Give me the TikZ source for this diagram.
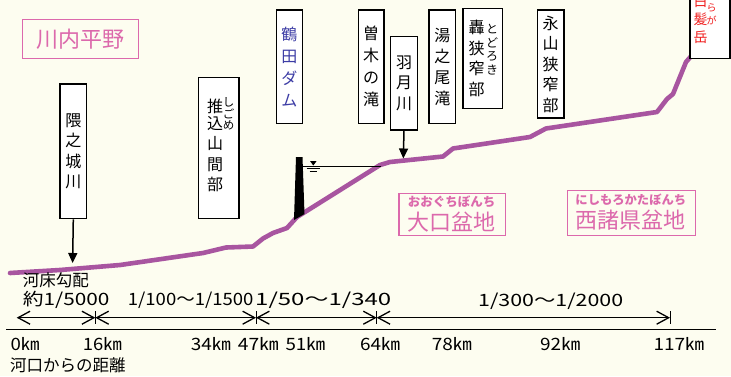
\documentclass[tikz,border=0pt]{standalone}
\usepackage{fontspec}
\setmainfont{Noto Sans CJK JP}
\usetikzlibrary{arrows.meta}
\definecolor{bg}{RGB}{253,253,240}
\definecolor{prof}{RGB}{168,85,160}
\definecolor{pk}{RGB}{220,105,172}
\definecolor{bl}{RGB}{60,60,165}
\definecolor{rd}{RGB}{240,30,30}
\newcommand\fitw[2]{\resizebox{#1pt}{\height}{#2}}
\begin{document}
\begin{tikzpicture}[x=1pt,y=-1pt,
  tbox/.style={draw,line width=1.3pt,fill=white,anchor=north west,inner sep=0pt,align=center,
     font=\fontsize{16}{20.5}\selectfont},
  ruby/.style={inner sep=0pt,font=\fontsize{11.5}{11.5}\selectfont},
  lab/.style={inner sep=0pt,anchor=west,font=\fontsize{17}{20}\selectfont},
  dim/.style={line width=1.3pt,{Straight Barb[length=12pt,width=13pt,line width=1.3pt]}-{Straight Barb[length=12pt,width=13pt,line width=1.3pt]}},
  dn/.style={line width=1.5pt,-{Triangle[length=10pt,width=9pt]}},
  pbox/.style={draw=pk,line width=1.2pt,anchor=north west,inner sep=0pt}]
\fill[bg] (0,0) rectangle (731,376);
\useasboundingbox (0,0) rectangle (731,376);

% title
\node[pbox,minimum width=116,minimum height=39,text=pk,font=\fontsize{22}{24}\selectfont] (sendai) at (22,19) {川内平野};

% profile
\draw[prof,line width=4.6pt,line join=round,line cap=round]
 (10,273) -- (60,270) -- (120,265) -- (203,253) -- (226,247.5) -- (253,246.5) -- (263,238.5)
 -- (273,233) -- (287,228) -- (297,217) -- (380,165) -- (390,162) -- (443,156.5)
 -- (453,148.5) -- (530,137) -- (546,128.5) -- (657,112) -- (667,99) -- (673,94)
 -- (686,62) -- (693,54);

% dam
\fill (296,157) -- (302.5,157) -- (304.5,214) -- (294,220) -- cycle;
\coordinate (res0) at (303,166);
\coordinate (res1) at (381,166);
\draw[line width=1pt] (res0) -- (res1);
\fill (310,161) -- (316.6,161) -- (313.3,165.5) -- cycle;
\draw[line width=1.2pt] (306.5,168.3) -- (320,168.3);
\draw[line width=1pt] (309.5,171) -- (317,171);

% boxes
\node[tbox,minimum width=26.7,minimum height=134.7] (kuma) at (59.3,83.3) {隈\\之\\城\\川};
\node[tbox,minimum width=40.3,minimum height=141] (oshi) at (198,77) {};
\node[inner sep=0pt,align=center,font=\fontsize{16}{20.5}\selectfont] (oshit) at (215,145.5) {推\\[-4pt]込\\山\\間\\部};
\foreach \c [count=\i] in {し,ご,め}
  \node[ruby] (oshir\i) at (228.5,102+11.5*\i-11.5) {\c};
\node[tbox,minimum width=26,minimum height=113.4,text=bl,font=\fontsize{16}{22}\selectfont] (tsuru) at (275.7,9.3) {鶴\\田\\ダ\\ム};
\node[tbox,minimum width=25.6,minimum height=113.7,font=\fontsize{16}{22}\selectfont] (sogi) at (357.7,9.3) {曽\\木\\の\\滝};
\node[tbox,minimum width=26.7,minimum height=93.6] (hazuki) at (390,35.7) {羽\\月\\川};
\node[tbox,minimum width=26.7,minimum height=113.4,font=\fontsize{16}{21}\selectfont] (yuno) at (428.3,9.3) {湯\\之\\尾\\滝};
\node[tbox,minimum width=39.4,minimum height=99.7] (todoro) at (462.3,8) {};
\node[inner sep=0pt,align=center,font=\fontsize{16}{20.7}\selectfont] (todorot) at (476.5,58.5) {轟\\狭\\窄\\部};
\foreach \c [count=\i] in {と,ど,ろ,き}
  \node[ruby,font=\fontsize{12}{12}\selectfont] (todoror\i) at (492,29+13.5*\i-13.5) {\c};
\node[tbox,minimum width=26.6,minimum height=108] (naga) at (536.7,9.3) {永\\山\\狭\\窄\\部};
\node[tbox,minimum width=40,minimum height=90] (shira) at (689.3,-32) {};
\node[inner sep=0pt,align=center,text=rd,font=\fontsize{14}{18}\selectfont] (shirat) at (700.5,19) {白\\髪\\岳};
\foreach \c [count=\i] in {し,ら,が}
  \node[ruby,text=rd,font=\fontsize{10}{10}\selectfont] (shirar\i) at (711.5,-4.5+12.5*\i-12.5) {\c};

% arrows from boxes
\coordinate (kumaE) at (72.6,263);
\draw[dn] (kuma.south) -- (kumaE);
\coordinate (hazE) at (403.3,158.5);
\draw[dn] (hazuki.south) -- (hazE);

% basins
\node[pbox,minimum width=106.7,minimum height=42.3] (ookuchi) at (398.3,192.7) {};
\node[inner sep=0pt,text=pk,font=\bfseries\fontsize{12.5}{14}\selectfont] (ookuchir) at (451.7,201.7) {おおぐちぼんち};
\node[inner sep=0pt,text=pk,font=\fontsize{22}{24}\selectfont] (ookuchit) at (451.7,221.7) {大口盆地};
\node[pbox,minimum width=128.3,minimum height=45] (nishi) at (566.7,190) {};
\node[inner sep=0pt,text=pk,font=\bfseries\fontsize{12.3}{14}\selectfont] (nishir) at (630.8,200) {にしもろかたぼんち};
\node[inner sep=0pt,text=pk,font=\fontsize{22}{24}\selectfont] (nishit) at (630.8,220) {西諸県盆地};

% axis
\draw[line width=1.3pt] (6,329.3) -- (716,329.3);
\coordinate (k0) at (16.7,317.7);
\coordinate (k16) at (95.3,317.7);
\coordinate (k47) at (256,317.7);
\coordinate (k64) at (376.7,317.7);
\coordinate (k117) at (670,317.7);
\draw[dim] (k0) -- (k16);
\draw[dim] (k16) -- (k47);
\draw[dim] (k47) -- (k64);
\draw[dim] (k64) -- (k117);
\foreach \k in {k16,k47,k64,k117} \draw[line width=1pt] (\k) ++(0,-6.5) -- ++(0,13);

% gradient labels
\node[lab,font=\fontsize{16.5}{20}\selectfont] (g0) at (22.7,280.7) {河床勾配};
\node[lab] (g1) at (22.7,300) {\fitw{86.6}{約1/5000}};
\node[lab] (g2) at (127.7,300) {\fitw{125.6}{1/100～1/1500}};
\node[lab] (g3) at (255,300) {\fitw{136}{1/50～1/340}};
\node[lab] (g4) at (478,301.7) {\fitw{145}{1/300～1/2000}};

% km labels
\node[lab] (d0) at (10.3,344.3) {\fitw{29}{0㎞}};
\node[lab] (d16) at (82.7,344.3) {\fitw{39}{16㎞}};
\node[lab] (d34) at (190.7,344.3) {\fitw{40}{34㎞}};
\node[lab] (d47) at (237.7,344.3) {\fitw{40.6}{47㎞}};
\node[lab] (d51) at (285.3,344.3) {\fitw{39.7}{51㎞}};
\node[lab] (d64) at (360,344.3) {\fitw{40}{64㎞}};
\node[lab] (d78) at (431.7,344.3) {\fitw{40}{78㎞}};
\node[lab] (d92) at (540,344.3) {\fitw{40}{92㎞}};
\node[lab] (d117) at (653.3,344.3) {\fitw{50.7}{117㎞}};
\node[lab,font=\fontsize{16.5}{20}\selectfont] (dist) at (10,365) {河口からの距離};
\end{tikzpicture}
\end{document}
